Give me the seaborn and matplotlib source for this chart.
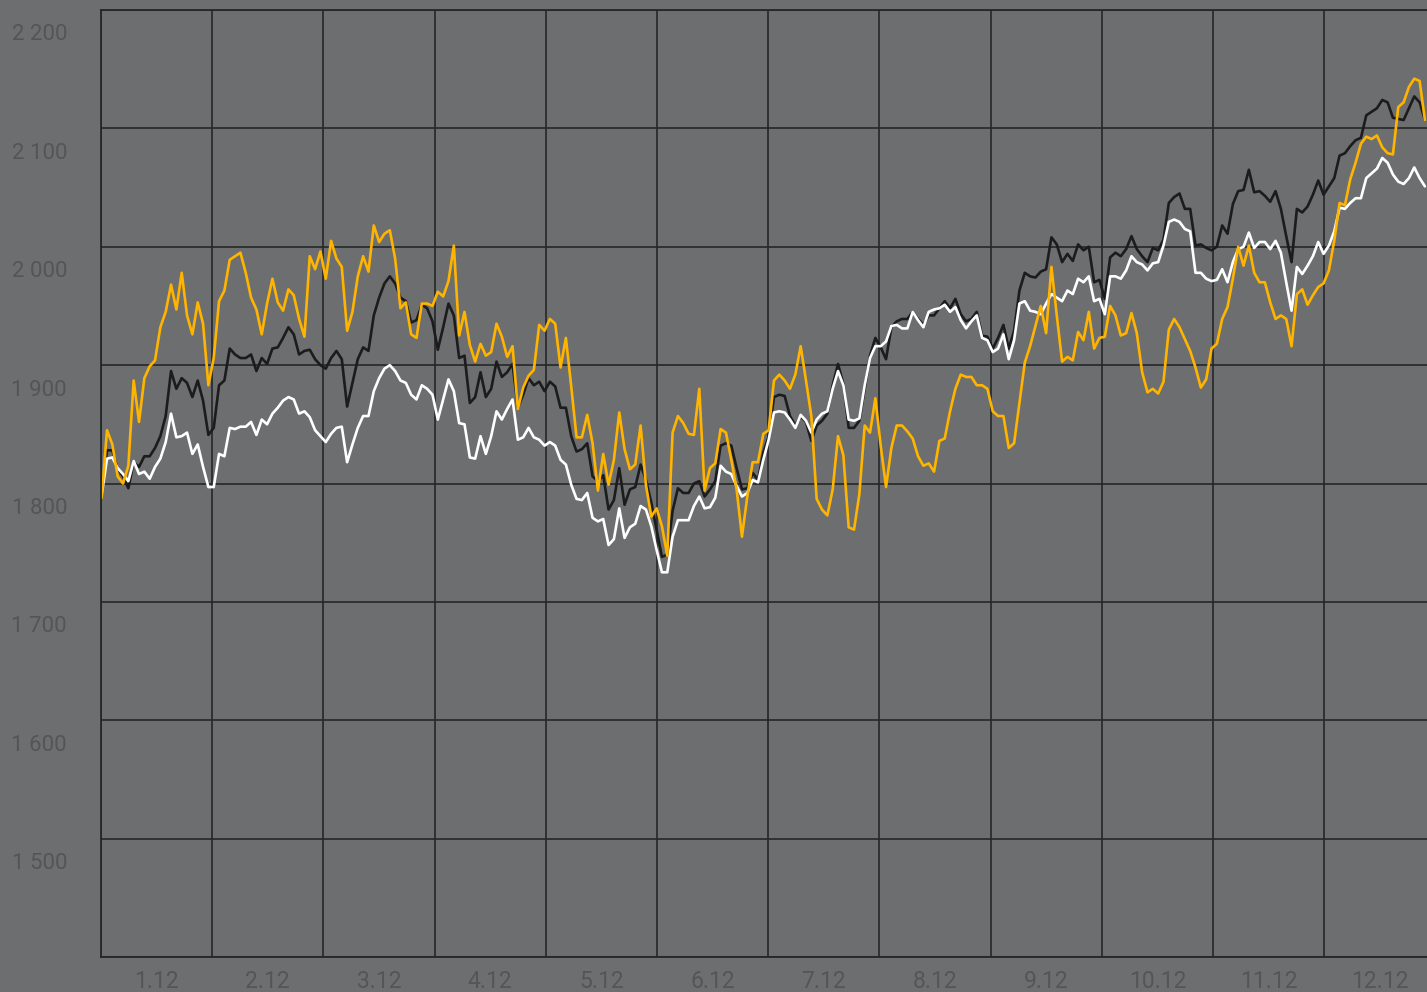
import numpy as np
import pandas as pd
import matplotlib
matplotlib.use("Agg")
import matplotlib.pyplot as plt
import seaborn as sns
from matplotlib.transforms import ScaledTranslation, blended_transform_factory

# ---- data -------------------------------------------------------------
month_labels = ["1.12", "2.12", "3.12", "4.12", "5.12", "6.12",
                "7.12", "8.12", "9.12", "10.12", "11.12", "12.12"]
y_tick_values = [1500, 1600, 1700, 1800, 1900, 2000, 2100, 2200]
y_tick_labels = ["1 500", "1 600", "1 700", "1 800", "1 900", "2 000", "2 100", "2 200"]

black_series = [
    1790, 1828, 1828, 1812, 1806, 1796, 1818, 1814, 1823, 1823, 1830, 1840, 1857, 1895, 1880,
    1889, 1885, 1873, 1887, 1870, 1841, 1847, 1883, 1887, 1914, 1909, 1906, 1906, 1909, 1895,
    1906, 1901, 1914, 1915, 1923, 1932, 1926, 1909, 1912, 1913, 1905, 1900,
    1897, 1906, 1912, 1905, 1865, 1885, 1905, 1915, 1912, 1942, 1957, 1969, 1975, 1969, 1957,
    1954, 1936, 1938, 1951, 1948, 1937, 1913, 1932, 1952, 1942, 1906, 1908, 1868, 1873, 1894,
    1873, 1880, 1903, 1890, 1894, 1901, 1864, 1875, 1889, 1883, 1886, 1878, 1886,
    1882, 1864, 1864, 1840, 1827, 1829, 1834, 1806, 1802, 1807, 1778, 1786, 1813, 1782, 1795,
    1797, 1816, 1803, 1784, 1761, 1738, 1740, 1777, 1796, 1792, 1792, 1800, 1802, 1789, 1795,
    1802, 1832, 1834, 1832, 1813, 1795, 1796, 1809, 1803, 1826, 1840, 1873,
    1875, 1874, 1857, 1849, 1857, 1852, 1836, 1849, 1853, 1859, 1883, 1901, 1884, 1847, 1847,
    1853, 1880, 1908, 1923, 1915, 1905, 1932, 1937, 1939, 1939, 1945, 1939, 1934, 1942, 1942,
    1948, 1954, 1948, 1956, 1943, 1937, 1939, 1945, 1925, 1924, 1914, 1923,
    1934, 1914, 1929, 1963, 1978, 1975, 1974, 1979, 1981, 2008, 2002, 1987, 1994, 1988, 2002,
    1997, 2000, 1970, 1972, 1956, 1991, 1995, 1992, 1998, 2009, 1998, 1992, 1987, 1999, 1997,
    2006, 2037, 2042, 2045, 2032, 2032, 2001, 2002, 1999, 1997, 2000, 2018,
    2011, 2036, 2047, 2048, 2065, 2046, 2047, 2043, 2038, 2047, 2032, 2009, 1987, 2032, 2029,
    2034, 2044, 2056, 2044, 2051, 2058, 2077, 2079, 2085, 2090, 2092, 2111, 2114, 2117, 2124,
    2122, 2109, 2108, 2107, 2117, 2127, 2122, 2107,
]

white_series = [
    1790, 1821, 1822, 1813, 1808, 1802, 1819, 1808, 1810, 1804, 1814, 1821, 1835, 1859, 1839,
    1840, 1843, 1825, 1833, 1814, 1797, 1797, 1825, 1823, 1847, 1846, 1848, 1848, 1852, 1841,
    1854, 1850, 1859, 1864, 1870, 1873, 1871, 1859, 1861, 1856, 1845, 1840,
    1835, 1842, 1847, 1848, 1818, 1833, 1847, 1857, 1857, 1878, 1889, 1897, 1900, 1895, 1887,
    1885, 1875, 1871, 1883, 1880, 1875, 1854, 1871, 1888, 1878, 1851, 1850, 1822, 1821, 1840,
    1825, 1840, 1861, 1854, 1863, 1871, 1837, 1839, 1847, 1839, 1837, 1832, 1835,
    1832, 1820, 1816, 1799, 1787, 1786, 1792, 1771, 1768, 1770, 1748, 1753, 1779, 1754, 1763,
    1766, 1781, 1778, 1764, 1744, 1725, 1725, 1755, 1769, 1769, 1769, 1781, 1789, 1779, 1780,
    1788, 1815, 1810, 1808, 1798, 1789, 1792, 1803, 1801, 1820, 1837, 1860,
    1861, 1860, 1854, 1847, 1858, 1853, 1843, 1854, 1859, 1861, 1880, 1895, 1883, 1854, 1853,
    1855, 1883, 1906, 1916, 1916, 1920, 1933, 1934, 1931, 1931, 1945, 1938, 1932, 1945, 1947,
    1948, 1951, 1945, 1949, 1938, 1931, 1937, 1942, 1923, 1921, 1911, 1914,
    1926, 1905, 1921, 1952, 1954, 1946, 1945, 1943, 1952, 1960, 1957, 1954, 1963, 1960, 1973,
    1970, 1975, 1954, 1956, 1943, 1975, 1975, 1973, 1980, 1992, 1987, 1985, 1980, 1986, 1987,
    2001, 2021, 2023, 2021, 2015, 2013, 1978, 1978, 1973, 1971, 1972, 1981,
    1970, 1987, 1998, 2000, 2012, 1999, 2004, 2004, 1998, 2005, 1995, 1970, 1946, 1983, 1977,
    1984, 1992, 2004, 1994, 2001, 2013, 2033, 2032, 2037, 2041, 2041, 2058, 2062, 2066, 2075,
    2071, 2061, 2055, 2053, 2058, 2067, 2058, 2051,
]

gold_series = [
    1788, 1845, 1833, 1806, 1800, 1815, 1887, 1852, 1889, 1899, 1904, 1932, 1945, 1968, 1947,
    1978, 1942, 1926, 1953, 1935, 1883, 1906, 1954, 1963, 1989, 1992, 1995, 1978, 1957, 1947,
    1926, 1952, 1973, 1953, 1946, 1964, 1959, 1939, 1924, 1992, 1981, 1996,
    1973, 2005, 1990, 1983, 1929, 1945, 1975, 1992, 1979, 2018, 2004, 2011, 2014, 1990, 1948,
    1953, 1926, 1923, 1952, 1952, 1950, 1962, 1958, 1971, 2001, 1925, 1945, 1917, 1903, 1918,
    1908, 1911, 1935, 1924, 1907, 1916, 1863, 1881, 1891, 1896, 1934, 1929, 1939,
    1935, 1898, 1923, 1882, 1839, 1839, 1858, 1834, 1794, 1825, 1799, 1820, 1860, 1829, 1812,
    1816, 1849, 1799, 1772, 1779, 1764, 1739, 1843, 1857, 1851, 1842, 1841, 1880, 1794, 1813,
    1817, 1846, 1843, 1820, 1795, 1755, 1789, 1818, 1818, 1842, 1845, 1887,
    1892, 1887, 1880, 1892, 1916, 1887, 1857, 1787, 1778, 1773, 1795, 1840, 1824, 1763, 1761,
    1791, 1849, 1843, 1872, 1832, 1797, 1830, 1849, 1849, 1844, 1838, 1823, 1815, 1817, 1810,
    1836, 1838, 1861, 1880, 1892, 1890, 1890, 1883, 1883, 1880, 1861, 1857,
    1857, 1830, 1834, 1868, 1902, 1916, 1933, 1950, 1927, 1983, 1942, 1903, 1907, 1904, 1928,
    1921, 1945, 1914, 1923, 1924, 1950, 1942, 1925, 1927, 1944, 1927, 1894, 1877, 1880, 1876,
    1886, 1930, 1939, 1932, 1922, 1912, 1898, 1881, 1888, 1914, 1918, 1939,
    1949, 1973, 2000, 1984, 2001, 1978, 1970, 1970, 1953, 1939, 1942, 1939, 1916, 1960, 1964,
    1951, 1959, 1966, 1969, 1980, 2005, 2037, 2035, 2057, 2071, 2087, 2093, 2091, 2094, 2084,
    2079, 2078, 2118, 2122, 2135, 2142, 2140, 2107,
]

# ---- styling constants -------------------------------------------------
BG = "#6d6e70"
GRID = "#262627"
TXT = "#545557"
COLORS = {"black": "#1c1c1d", "white": "#ffffff", "gold": "#ffb400"}

n = len(black_series)
x = np.linspace(0.006, 11.906, n)  # position in months
df = pd.DataFrame({
    "x": np.tile(x, 3),
    "value": black_series + white_series + gold_series,
    "series": ["black"] * n + ["white"] * n + ["gold"] * n,
})

sns.set_style("white")
plt.rcParams["font.family"] = ["Roboto", "DejaVu Sans"]

W, H = 1427, 992
fig = plt.figure(figsize=(W / 100, H / 100), dpi=100, facecolor=BG)
ax = fig.add_axes([101 / W, 35 / H, 1334.4 / W, 947 / H])
ax.set_facecolor(BG)

sns.lineplot(data=df, x="x", y="value", hue="series",
             hue_order=["black", "white", "gold"], palette=COLORS,
             linewidth=1.9, legend=False, estimator=None, sort=False, ax=ax)

ax.set_xlim(0, 12)
ax.set_ylim(1400, 2200)
ax.set_xlabel("")
ax.set_ylabel("")

ax.set_xticks(range(13))
ax.set_xticklabels([])
ax.set_xticks(np.arange(0.5, 12, 1.0), minor=True)
ax.set_xticklabels(month_labels, minor=True, fontsize=16.5, color=TXT)
ax.tick_params(axis="x", which="both", length=0, pad=9.5)

ax.set_yticks(range(1400, 2201, 100))
ax.set_yticklabels([])
ax.tick_params(axis="y", which="both", length=0)

ax.grid(True, which="major", color=GRID, linewidth=1.2)
ax.set_axisbelow(True)
for side in ["left", "top", "bottom"]:
    ax.spines[side].set_visible(True)
    ax.spines[side].set_color(GRID)
    ax.spines[side].set_linewidth(1.3)
ax.spines["right"].set_visible(False)

trans = blended_transform_factory(ax.transAxes, ax.transData) + \
    ScaledTranslation(-0.34, -0.25, fig.dpi_scale_trans)
for v, lab in zip(y_tick_values, y_tick_labels):
    ax.text(0, v, lab, transform=trans, ha="right", va="center",
            fontsize=16, color=TXT, clip_on=False)

fig.savefig("out.png", dpi=100, facecolor=BG)
